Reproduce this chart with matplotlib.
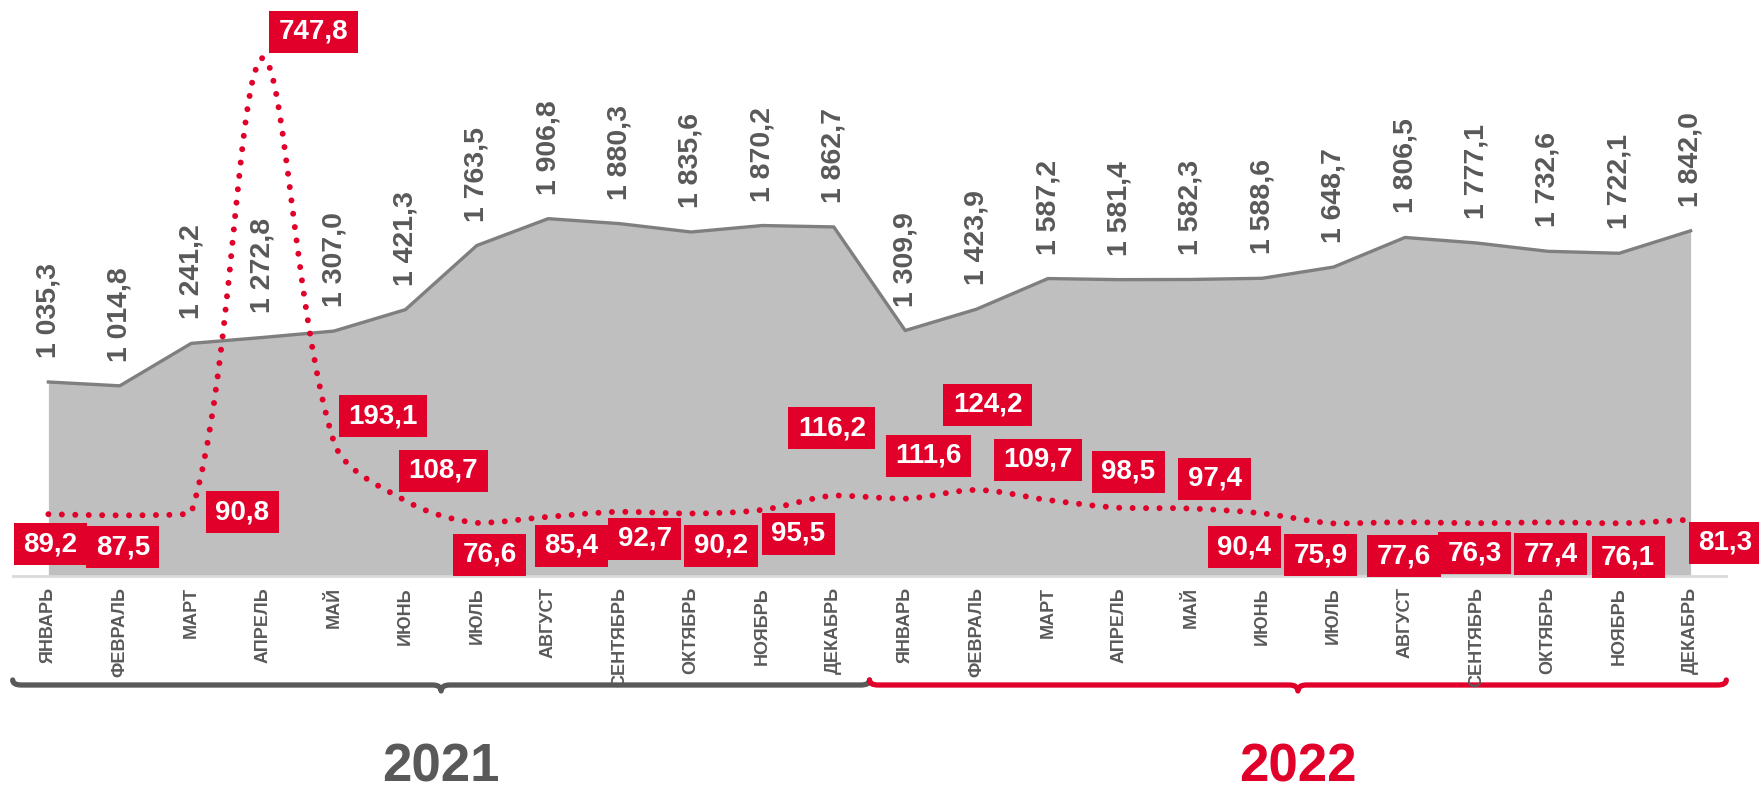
"""
Monthly totals (grey area) with a second index series (red dotted line), 2021-2022.
"""

import matplotlib
matplotlib.use("Agg")
import matplotlib.pyplot as plt
import matplotlib.transforms as mtransforms
from matplotlib.path import Path
from matplotlib.patches import PathPatch
import numpy as np

plt.rcParams["font.family"] = ["Liberation Sans", "DejaVu Sans"]

# ---------------------------------------------------------------------------
# Data
# ---------------------------------------------------------------------------
months = ["ЯНВАРЬ", "ФЕВРАЛЬ", "МАРТ", "АПРЕЛЬ", "МАЙ", "ИЮНЬ",
          "ИЮЛЬ", "АВГУСТ", "СЕНТЯБРЬ", "ОКТЯБРЬ", "НОЯБРЬ", "ДЕКАБРЬ"]
years = ["2021", "2022"]

totals_2021 = [1035.3, 1014.8, 1241.2, 1272.8, 1307.0, 1421.3,
               1763.5, 1906.8, 1880.3, 1835.6, 1870.2, 1862.7]
totals_2022 = [1309.9, 1423.9, 1587.2, 1581.4, 1582.3, 1588.6,
               1648.7, 1806.5, 1777.1, 1732.6, 1722.1, 1842.0]

index_2021 = [89.2, 87.5, 90.8, 747.8, 193.1, 108.7,
              76.6, 85.4, 92.7, 90.2, 95.5, 116.2]
index_2022 = [111.6, 124.2, 109.7, 98.5, 97.4, 90.4,
              75.9, 77.6, 76.3, 77.4, 76.1, 81.3]

# label box offsets from their point (pixels), as placed by hand in the original
index_offsets = [(2, -30), (3, -32), (51, 1), (51, 26), (49, 26), (38, 30),
                 (13, -32), (23, -29), (25, -27), (30, -32), (36, -24), (-2, 67),
                 (23, 43), (11, 85), (-10, 40), (9, 36), (24, 30), (-18, -34),
                 (-13, -32), (-1, -34), (-2, -30), (3, -32), (9, -34), (35, -23)]

# ---------------------------------------------------------------------------
# Styling
# ---------------------------------------------------------------------------
RED = "#e1002a"
DARK = "#595959"
AREA = "#bfbfbf"
AREA_EDGE = "#7f7f7f"
AXIS_LINE = "#d9d9d9"

W, H = 1759, 785


def fmt(v):
    return f"{v:,.1f}".replace(",", " ").replace(".", ",")


def fixed_box(pad_x=9.5, box_h=42):
    """Rectangle of fixed height around a text, like the Excel label boxes."""
    def style(x0, y0, width, height, mutation_size):
        cy = y0 + height / 2
        xl, xr = x0 - pad_x, x0 + width + pad_x
        yb, yt = cy - box_h / 2, cy + box_h / 2
        return Path([(xl, yb), (xr, yb), (xr, yt), (xl, yt), (xl, yb)],
                    [Path.MOVETO, Path.LINETO, Path.LINETO, Path.LINETO, Path.CLOSEPOLY])
    return style


def smooth_path(pts, t=1 / 3):
    """Excel-like smoothed line (cubic Bezier) through screen points.

    Handles follow the neighbour chord, sized by the adjacent segment lengths,
    and are kept inside the vertical range of their segment (no overshoot).
    """
    pts = np.asarray(pts, dtype=float)
    n = len(pts)
    seg = np.hypot(*np.diff(pts, axis=0).T)
    verts = [pts[0]]
    codes = [Path.MOVETO]
    for i in range(n - 1):
        p1, p2 = pts[i], pts[i + 1]
        d = seg[i]
        if i == 0:
            c1 = p1 + t * (p2 - p1)
        else:
            c1 = p1 + t * (p2 - pts[i - 1]) * d / (seg[i - 1] + d)
        if i + 2 >= n:
            c2 = p2 - t * (p2 - p1)
        else:
            c2 = p2 - t * (pts[i + 2] - p1) * d / (d + seg[i + 1])
        lo, hi = min(p1[1], p2[1]), max(p1[1], p2[1])
        c1[1] = np.clip(c1[1], lo, hi)
        c2[1] = np.clip(c2[1], lo, hi)
        verts += [c1, c2, p2]
        codes += [Path.CURVE4] * 3
    return np.array(verts), codes


totals = totals_2021 + totals_2022
index = index_2021 + index_2022
labels = months + months
x = np.arange(len(totals))

# ---------------------------------------------------------------------------
# Figure
# ---------------------------------------------------------------------------
fig = plt.figure(figsize=(W / 100, H / 100), dpi=100)
axis_y = 576          # pixel row of the zero line (from top)
x0_px, step_px = 48.4, 71.4

ax = fig.add_axes([0, (H - axis_y) / H, 1, axis_y / H])
ax.set_xlim(-x0_px / step_px, (W - x0_px) / step_px)
ax.set_ylim(0, axis_y / 0.1874)
ax2 = ax.twinx()
ax2.set_ylim(0, axis_y / 0.6928)

for a in (ax, ax2):
    for s in a.spines.values():
        s.set_visible(False)
    a.tick_params(length=0)
ax.set_yticks([])
ax2.set_yticks([])

# grey area
ax.fill_between(x, totals, 0, color=AREA, lw=0, zorder=1)
ax.plot(x, totals, color=AREA_EDGE, lw=2.4, solid_joinstyle="round", zorder=2)
ax.plot([-0.5, len(x) - 0.5], [0, 0], color=AXIS_LINE, lw=2, clip_on=False, zorder=3)

for i, v in enumerate(totals):
    ax.annotate(fmt(v), (i, v), xytext=(0, 24), textcoords="offset pixels",
                rotation=90, ha="center", va="bottom",
                fontsize=20.5, fontweight="bold", color=DARK)

ax.set_xticks(x)
ax.set_xticklabels(labels, rotation=90, fontsize=13, fontweight="bold", color=DARK)
ax.tick_params(axis="x", pad=8)

# red dotted smoothed line (smoothing computed in screen space, drawn in data space)
screen_pts = ax2.transData.transform(np.column_stack([x, index]))
verts, codes = smooth_path(screen_pts)
data_verts = ax2.transData.inverted().transform(verts)
line = PathPatch(Path(data_verts, codes), transform=ax2.transData, fill=False,
                 edgecolor=RED, lw=4.3, linestyle=(0, (0.001, 2.25)),
                 capstyle="round", zorder=4)
ax2.add_patch(line)

for i, v in enumerate(index):
    dx, dy = index_offsets[i]
    ax2.annotate(fmt(v), (i, v), xytext=(dx, dy), textcoords="offset pixels",
                 ha="center", va="center", fontsize=20, fontweight="bold",
                 color="white", zorder=5, annotation_clip=False,
                 bbox=dict(boxstyle=fixed_box(), fc=RED, ec="none"))

# year braces and labels under the month names
brace_tr = mtransforms.blended_transform_factory(ax.transData, fig.transFigure)
y_b = 1 - 685 / H
curl = 5 / H
tip = 6 / H
for k, (year, col) in enumerate(zip(years, [DARK, RED])):
    xs, xe = k * 12 - 0.5, k * 12 + 11.5
    xm = (xs + xe) / 2
    e = 0.12
    verts = [(xs, y_b + curl), (xs, y_b), (xs + e, y_b),
             (xm - e, y_b), (xm, y_b), (xm, y_b - tip),
             (xm, y_b), (xm + e, y_b),
             (xe - e, y_b), (xe, y_b), (xe, y_b + curl)]
    codes = [Path.MOVETO, Path.CURVE3, Path.CURVE3,
             Path.LINETO, Path.CURVE3, Path.CURVE3,
             Path.CURVE3, Path.CURVE3,
             Path.LINETO, Path.CURVE3, Path.CURVE3]
    ax.add_patch(PathPatch(Path(verts, codes), transform=brace_tr, fill=False,
                           edgecolor=col, lw=3.8, capstyle="round",
                           joinstyle="round", clip_on=False))
    ax.text(xm, 1 - 782 / H, year, transform=brace_tr, ha="center", va="baseline",
            fontsize=38, fontweight="bold", color=col)

fig.savefig("out.png", dpi=100)
plt.close(fig)
